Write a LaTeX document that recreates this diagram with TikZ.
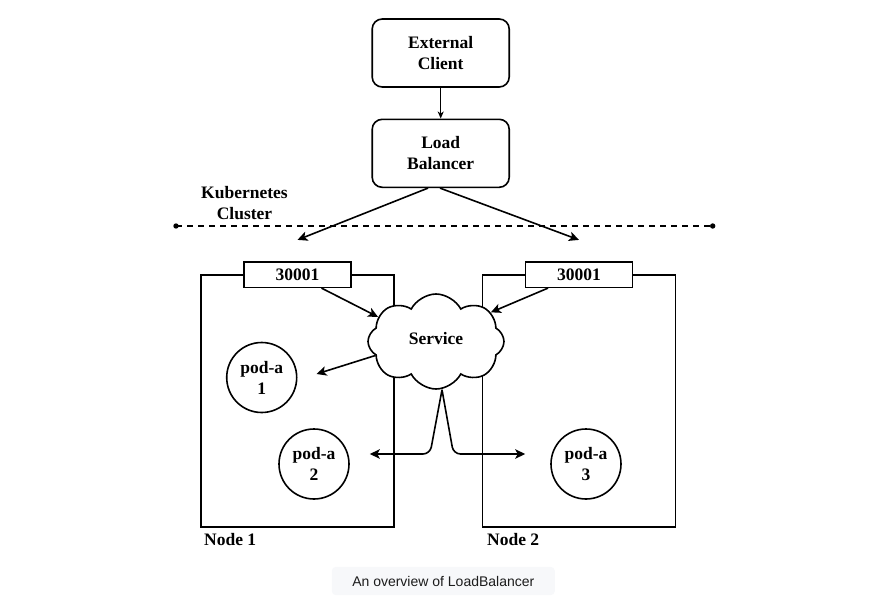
\documentclass[tikz,border=0pt]{standalone}
\usepackage{fontspec}
\setmainfont{Liberation Serif}
\newfontfamily\capfont{Liberation Sans}
\usetikzlibrary{arrows.meta,shapes.symbols}
\definecolor{capfill}{HTML}{F7F8FA}
\definecolor{captext}{HTML}{1C1C1C}
\begin{document}
\begin{tikzpicture}[x=1pt,y=-1pt]
  \tikzstyle{every node}=[font=\fontsize{17.5}{21}\selectfont\bfseries]
  \tikzstyle{box}=[draw,line width=1.6pt,rounded corners=10pt,minimum width=137pt,minimum height=68pt,align=center,inner sep=0pt]
  \tikzstyle{host}=[draw,line width=1.6pt,minimum width=193pt,minimum height=252pt,inner sep=0pt]
  \tikzstyle{port}=[draw,fill=white,line width=1.6pt,minimum width=107pt,minimum height=25.6pt,inner sep=0pt]
  \tikzstyle{pod}=[draw,circle,line width=1.6pt,minimum size=70pt,align=center,inner sep=0pt]
  \tikzstyle{conn}=[line width=1.6pt,-{Stealth[length=10pt,width=9.5pt,inset=2.5pt]}]
  \def\ybox{401} % middle of the node boxes
  \def\ypod{464} % height of the lower pods
  \useasboundingbox (0,0) rectangle (882,615);
  % outside the cluster
  \node[box] (ext) at (440.7,53) {External\\Client};
  \node[box] (lb) at (440.7,153.3) {Load\\Balancer};
  \draw[line width=1.1pt,-{Stealth[length=7pt,width=6pt,inset=2pt]}] (ext) -- (lb);
  \node[align=center] (k8s) at (244.5,203) {Kubernetes\\Cluster};
  \coordinate (cl) at (176,226);
  \coordinate (cr) at (712.7,226);
  \draw[line width=1.6pt,dash pattern=on 6pt off 5pt] (cl) -- (cr);
  \fill (cl) circle (2.7) (cr) circle (2.7);
  % worker nodes
  \node[host] (node1) at (297.5,\ybox) {};
  \node[host] (node2) at (579,\ybox) {};
  \node[anchor=base west,inner sep=0pt] (n1lab) at (204,545) {Node 1};
  \node[anchor=base west,inner sep=0pt] (n2lab) at (487,545) {Node 2};
  \node[port] (port1) at (297.5,274.5) {30001};
  \node[port] (port2) at (579,274.5) {30001};
  \draw[conn] ([xshift=-12.7pt]lb.south) -- ([yshift=21pt]port1.north);
  \draw[conn] ([xshift=-0.7pt]lb.south) -- ([yshift=21pt]port2.north);
  % service and pods
  \node[cloud,draw,fill=white,line width=1.6pt,cloud puffs=8,cloud puff arc=125,aspect=1.45,
        minimum width=136pt,minimum height=95pt,inner sep=0pt] (svc) at (436,341.5) {\raisebox{6pt}{Service}};
  \node[pod] (pod1) at (261.7,377.5) {pod-a\\1};
  \node[pod] (pod2) at (314,\ypod) {pod-a\\2};
  \node[pod] (pod3) at (586,\ypod) {pod-a\\3};
  \draw[conn] ([xshift=24pt]port1.south) -- (svc.157);
  \draw[conn] ([xshift=-31pt]port2.south) -- (svc.28);
  \draw[conn] (svc.193) -- ([xshift=19pt,yshift=3.5pt]pod1.east);
  \coordinate (p2in) at ([xshift=20pt,yshift=10pt]pod2.east);
  \coordinate (p3in) at ([xshift=-25pt,yshift=10pt]pod3.west);
  \draw[conn,rounded corners=7pt] ([xshift=6pt]svc.south) -- ([xshift=-6pt]svc.south |- p2in) -- (p2in);
  \draw[conn,rounded corners=7pt] ([xshift=6pt]svc.south) -- ([xshift=17.5pt]svc.south |- p3in) -- (p3in);
  % caption
  \node[fill=capfill,rounded corners=4pt,minimum width=223pt,minimum height=28.3pt,
        font=\capfont\fontsize{14}{17}\selectfont,text=captext] (cap) at (443.3,581) {An overview of LoadBalancer};
\end{tikzpicture}
\end{document}
